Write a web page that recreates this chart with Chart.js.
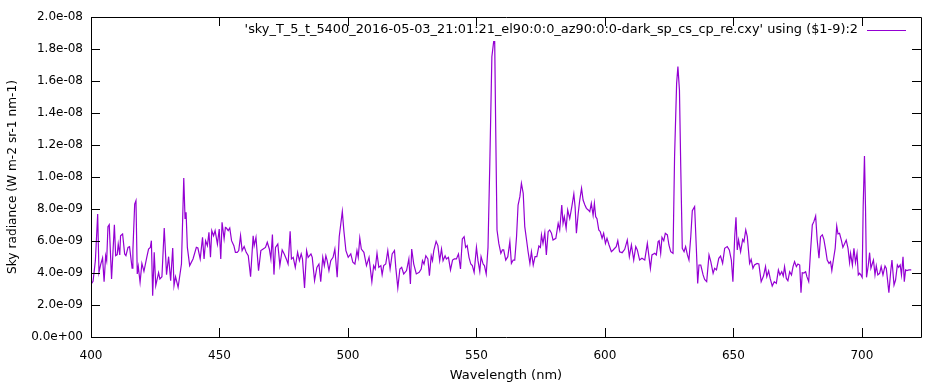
<!DOCTYPE html>
<html>
<head>
<meta charset="utf-8">
<script src="https://cdn.jsdelivr.net/npm/chart.js@4.4.0/dist/chart.umd.min.js"></script>
<style>
  html, body { margin: 0; padding: 0; background: #fff; }
</style>
</head>
<body>
<canvas id="skyChart" width="945" height="384"></canvas>
<script>
// wavelength in nm
const wavelength = [
  400.1, 400.8, 401.7, 402.6, 403.1, 403.8, 404.5, 405.1, 405.7, 406.1, 406.6, 407.1, 408.0, 409.1, 409.6, 410.2,
  410.6, 411.2, 411.5, 412.3, 413.1, 413.6, 414.4, 415.0, 416.0, 416.3, 417.0, 417.5, 418.0, 418.4, 419.1, 419.8,
  420.6, 421.7, 422.4, 423.1, 423.5, 424.0, 424.6, 425.2, 426.3, 426.8, 427.6, 428.5, 429.4, 430.2, 431.0, 431.8,
  432.3, 432.9, 433.9, 435.2, 436.1, 436.6, 437.0, 437.5, 438.4, 439.7, 441.0, 441.6, 442.5, 443.4, 444.0, 444.6,
  445.3, 445.9, 446.5, 447.0, 447.7, 448.3, 449.2, 449.9, 450.5, 451.0, 451.8, 452.3, 452.7, 453.4, 454.0, 454.7,
  455.6, 456.2, 456.9, 457.5, 458.2, 458.8, 459.6, 460.4, 461.2, 462.1, 463.1, 463.5, 464.2, 465.2, 466.1, 467.0,
  467.9, 468.6, 469.4, 470.0, 470.6, 471.2, 471.8, 472.7, 473.5, 474.4, 475.2, 476.0, 476.7, 477.5, 478.0, 478.7,
  479.5, 480.4, 481.1, 481.8, 482.3, 483.1, 483.9, 484.5, 485.6, 486.1, 487.0, 487.9, 488.7, 489.4, 490.2, 490.8,
  491.4, 491.9, 492.6, 493.3, 494.2, 494.9, 495.8, 496.6, 497.8, 498.4, 499.2, 500.1, 501.1, 501.9, 502.7, 503.5,
  504.0, 504.6, 505.2, 506.2, 507.2, 508.2, 509.3, 510.0, 510.6, 511.3, 512.0, 512.8, 513.3, 513.9, 514.7, 515.5,
  516.4, 517.2, 518.1, 518.6, 519.4, 520.2, 520.9, 521.7, 522.8, 523.7, 524.3, 524.8, 525.6, 526.6, 527.7, 528.5,
  529.0, 529.6, 530.3, 531.1, 531.7, 532.4, 532.9, 533.4, 534.3, 535.0, 535.7, 536.4, 537.0, 537.8, 538.3, 539.1,
  539.9, 540.7, 541.4, 542.2, 543.0, 543.8, 544.5, 545.2, 545.8, 546.4, 547.1, 547.8, 548.4, 549.1, 550.0, 550.6,
  551.3, 551.8, 552.6, 553.1, 553.8, 554.5, 555.2, 556.0, 556.7, 557.1, 557.5, 558.0, 558.7, 559.5, 560.1, 560.6,
  561.4, 562.2, 563.0, 563.6, 564.3, 564.9, 565.6, 566.2, 566.9, 567.5, 568.2, 568.8, 569.5, 570.1, 570.8, 571.4,
  572.1, 572.8, 573.5, 574.3, 574.9, 575.3, 575.9, 576.6, 577.2, 577.9, 578.5, 579.2, 579.8, 580.9, 581.8, 582.4,
  583.2, 583.7, 584.2, 584.9, 585.5, 586.3, 587.1, 587.9, 588.4, 588.9, 589.6, 590.2, 590.9, 591.5, 592.2, 592.8,
  593.5, 594.1, 594.7, 595.4, 595.9, 596.4, 596.9, 597.6, 598.2, 598.9, 599.5, 600.2, 600.8, 601.6, 602.5, 603.2,
  604.4, 605.0, 605.7, 606.7, 607.7, 608.7, 609.5, 610.3, 611.2, 612.0, 612.6, 613.5, 614.4, 615.5, 616.5, 617.7,
  618.3, 619.4, 620.0, 620.7, 621.1, 621.7, 622.2, 622.9, 623.5, 624.3, 624.9, 625.6, 626.5, 627.1, 627.9, 628.4,
  629.0, 629.5, 630.1, 630.8, 631.4, 632.1, 632.7, 633.4, 634.0, 634.9, 635.6, 636.1, 636.6, 637.3, 638.2, 638.8,
  639.6, 640.5, 641.2, 642.1, 642.7, 643.4, 644.3, 645.0, 645.8, 646.6, 647.6, 648.4, 649.2, 649.8, 650.5, 651.0,
  651.5, 652.0, 652.8, 653.6, 654.1, 654.8, 655.4, 656.3, 656.9, 657.6, 658.2, 659.2, 659.9, 660.8, 661.7, 662.5,
  663.0, 663.7, 664.3, 665.1, 665.9, 666.7, 667.5, 668.1, 668.8, 669.4, 669.9, 670.6, 671.2, 671.9, 672.6, 673.2,
  673.8, 674.5, 675.1, 675.8, 676.3, 676.8, 677.4, 678.1, 678.6, 679.3, 680.0, 680.7, 681.3, 682.0, 682.6, 683.3,
  683.9, 684.6, 685.2, 685.9, 686.5, 687.2, 687.8, 688.3, 689.0, 689.6, 690.2, 690.7, 691.3, 692.0, 692.6, 693.3,
  693.9, 694.6, 695.2, 695.6, 696.3, 696.9, 697.5, 698.1, 698.6, 699.1, 699.6, 700.1, 700.5, 701.0, 701.4, 701.8,
  702.5, 703.0, 703.5, 704.0, 704.5, 705.1, 705.6, 706.2, 706.9, 707.5, 708.2, 709.0, 709.5, 710.5, 711.2, 711.7,
  712.5, 713.1, 713.8, 714.3, 714.9, 715.4, 716.0, 716.5, 717.0, 717.5, 718.3, 719.2
];

// sky radiance, in units of 1e-9 W m-2 sr-1 nm-1
const radiance = [
  3.31, 3.48, 4.77, 7.69, 4.04, 4.56, 4.94, 3.46, 5.08, 4.77, 6.90, 7.02, 3.63, 7.02, 5.08, 5.15,
  5.81, 5.13, 6.33, 6.44, 5.19, 5.08, 5.60, 5.65, 4.31, 5.40, 8.31, 8.52, 3.94, 4.40, 3.42, 4.60,
  4.10, 4.98, 5.50, 5.60, 6.02, 2.58, 5.29, 3.21, 4.02, 3.63, 3.77, 6.81, 3.90, 5.02, 3.52, 5.56,
  3.21, 3.77, 3.10, 4.56, 9.94, 7.38, 7.79, 5.60, 4.46, 4.88, 5.60, 5.56, 4.88, 6.23, 4.88, 6.02,
  5.71, 6.54, 4.98, 6.65, 6.33, 6.65, 5.81, 6.75, 4.88, 7.17, 6.13, 6.85, 6.81, 6.65, 6.81, 6.02,
  5.71, 5.29, 5.29, 5.40, 6.33, 5.40, 5.65, 5.29, 5.08, 3.77, 6.33, 5.71, 6.23, 4.15, 5.40, 5.50,
  5.60, 5.92, 5.50, 4.88, 6.40, 3.90, 5.60, 5.81, 4.46, 5.44, 5.19, 4.88, 4.56, 6.60, 4.88, 4.98,
  4.35, 5.29, 4.77, 5.19, 4.88, 3.06, 5.40, 4.98, 5.19, 4.98, 3.52, 4.35, 4.56, 3.46, 4.98, 4.46,
  5.08, 4.77, 4.15, 4.77, 4.98, 5.50, 3.73, 6.27, 7.85, 6.65, 5.40, 4.98, 5.19, 4.67, 4.56, 5.40,
  4.98, 6.19, 5.50, 5.29, 4.46, 4.98, 3.46, 4.46, 4.25, 5.23, 4.35, 4.46, 3.90, 4.46, 4.56, 5.40,
  4.25, 5.19, 5.40, 4.35, 3.06, 4.25, 4.35, 3.94, 4.15, 4.88, 3.31, 5.50, 4.56, 3.94, 4.04, 4.25,
  4.77, 4.56, 5.08, 4.88, 3.83, 5.08, 4.77, 5.40, 5.98, 5.71, 4.77, 5.50, 4.77, 5.08, 4.88, 4.98,
  4.19, 4.81, 4.88, 4.88, 5.19, 4.25, 6.13, 6.27, 5.60, 5.71, 4.98, 4.56, 4.46, 4.04, 5.60, 4.77,
  4.10, 5.02, 4.56, 4.46, 3.94, 5.60, 10.85, 17.52, 18.46, 18.46, 12.94, 6.69, 5.85, 5.23, 5.44, 5.44,
  4.81, 5.02, 5.96, 4.60, 4.81, 4.81, 6.27, 8.25, 8.77, 9.60, 8.98, 6.90, 6.06, 5.33, 4.60, 5.33,
  4.50, 5.02, 5.02, 5.69, 5.60, 6.38, 5.85, 6.52, 5.13, 6.58, 6.69, 6.48, 6.06, 6.17, 7.10, 6.69,
  8.25, 7.10, 7.52, 6.79, 7.94, 7.40, 8.13, 8.94, 8.13, 6.48, 7.73, 8.56, 9.29, 8.56, 8.25, 8.04,
  7.94, 7.83, 8.35, 7.60, 8.35, 7.52, 7.40, 6.69, 6.58, 6.17, 6.48, 5.85, 6.17, 5.75, 5.33, 5.44,
  5.65, 6.02, 5.33, 5.27, 5.48, 6.06, 5.02, 5.75, 4.81, 5.65, 5.44, 4.81, 4.92, 4.81, 5.85, 4.29,
  5.13, 5.23, 5.13, 5.96, 6.02, 5.23, 6.23, 6.02, 6.48, 6.38, 5.75, 5.33, 5.23, 11.27, 15.85, 16.90,
  15.44, 10.65, 5.54, 5.33, 5.65, 5.13, 4.81, 6.27, 7.90, 8.15, 5.44, 3.35, 4.50, 4.50, 3.88, 3.60,
  3.46, 5.13, 4.71, 3.98, 4.29, 4.19, 4.92, 5.06, 4.60, 5.54, 5.65, 5.44, 4.81, 3.46, 6.27, 7.48,
  5.44, 6.06, 5.33, 6.10, 5.96, 6.69, 6.27, 4.60, 4.85, 4.29, 4.50, 4.60, 4.56, 3.46, 3.81, 4.40,
  3.77, 4.13, 3.66, 3.19, 3.46, 3.35, 4.19, 3.88, 4.08, 3.81, 4.40, 3.66, 3.52, 4.08, 3.88, 4.40,
  4.71, 4.40, 4.56, 4.50, 2.77, 4.02, 4.00, 4.08, 3.77, 3.46, 5.33, 7.00, 7.21, 7.56, 6.06, 4.92,
  6.27, 6.38, 6.10, 5.44, 4.81, 4.60, 4.71, 4.15, 4.92, 5.54, 6.94, 6.44, 6.48, 6.06, 5.60, 5.85,
  6.06, 5.54, 4.65, 5.23, 4.50, 5.54, 4.65, 5.23, 3.88, 3.98, 3.88, 3.73, 8.15, 11.31, 8.15, 3.73,
  4.50, 5.27, 4.29, 4.56, 4.81, 3.88, 4.44, 3.88, 3.98, 4.40, 3.88, 4.44, 4.29, 2.77, 4.08, 4.81,
  3.25, 3.56, 4.50, 4.35, 4.50, 3.88, 5.02, 3.46, 4.19, 4.15, 4.19, 4.19
];

const seriesLabel = "'sky_T_5_t_5400_2016-05-03_21:01:21_el90:0:0_az90:0:0-dark_sp_cs_cp_re.cxy' using ($1-9):2";
const xTicks = [400, 450, 500, 550, 600, 650, 700];
const yTicks = [0, 2, 4, 6, 8, 10, 12, 14, 16, 18, 20];

const FONT = 'DejaVu Sans';

function expLabel(v) {
  // gnuplot style: 2.0e-09, 0.0e+00
  const s = (v * 1e-9).toExponential(1);
  return s.replace(/e([+-])(\d)$/, 'e$10$2');
}

// gnuplot-like frame with inward ticks and legend on the top right
const gnuplotFrame = {
  id: 'gnuplotFrame',
  afterDraw(chart) {
    const ctx = chart.ctx;
    const a = chart.chartArea;
    const xs = chart.scales.x, ys = chart.scales.y;
    const tl = 9;
    ctx.save();
    ctx.strokeStyle = '#000';
    ctx.lineWidth = 1;
    ctx.beginPath();
    ctx.rect(Math.round(a.left) + 0.5, Math.round(a.top) + 0.5,
             Math.round(a.right - a.left), Math.round(a.bottom - a.top));
    xTicks.forEach(v => {
      const px = Math.round(xs.getPixelForValue(v)) + 0.5;
      ctx.moveTo(px, a.bottom); ctx.lineTo(px, a.bottom - tl);
      ctx.moveTo(px, a.top); ctx.lineTo(px, a.top + tl);
    });
    yTicks.forEach(v => {
      const py = Math.round(ys.getPixelForValue(v)) + 0.5;
      ctx.moveTo(a.left, py); ctx.lineTo(a.left + tl, py);
      ctx.moveTo(a.right, py); ctx.lineTo(a.right - tl, py);
    });
    ctx.stroke();

    // legend
    const ds = chart.data.datasets[0];
    const ly = a.top + 13;
    ctx.font = '12.9px "' + FONT + '"';
    ctx.fillStyle = '#000';
    ctx.textAlign = 'right';
    ctx.textBaseline = 'middle';
    ctx.fillText(ds.label, a.right - 63, ly);
    ctx.strokeStyle = ds.borderColor;
    ctx.lineWidth = 1.2;
    ctx.beginPath();
    ctx.moveTo(a.right - 54, ly + 0.5);
    ctx.lineTo(a.right - 15, ly + 0.5);
    ctx.stroke();
    ctx.restore();
  }
};

const ctx = document.getElementById('skyChart').getContext('2d');
const chart = new Chart(ctx, {
  type: 'line',
  data: {
    datasets: [{
      label: seriesLabel,
      data: wavelength.map((w, i) => ({ x: w, y: radiance[i] })),
      borderColor: '#9400d3',
      borderWidth: 1.2,
      pointRadius: 0,
      tension: 0,
      fill: false
    }]
  },
  options: {
    responsive: false,
    animation: false,
    devicePixelRatio: 1,
    layout: { padding: { top: 17, right: 24, left: 0, bottom: 0 } },
    plugins: {
      legend: { display: false },
      tooltip: { enabled: false }
    },
    scales: {
      x: {
        type: 'linear',
        min: 400,
        max: 723,
        afterBuildTicks: s => { s.ticks = xTicks.map(v => ({ value: v })); },
        afterFit: s => { s.height = 47; },
        grid: { display: false, drawTicks: false },
        border: { display: false },
        ticks: {
          color: '#000',
          font: { family: FONT, size: 12 },
          padding: 12,
          maxRotation: 0,
          autoSkip: false,
          callback: v => String(v)
        },
        title: {
          display: true,
          text: 'Wavelength (nm)',
          color: '#000',
          font: { family: FONT, size: 13 },
          padding: { top: 0, bottom: 1 }
        }
      },
      y: {
        type: 'linear',
        min: 0,
        max: 20,
        afterBuildTicks: s => { s.ticks = yTicks.map(v => ({ value: v })); },
        afterFit: s => { s.width = 91; },
        grid: { display: false, drawTicks: false },
        border: { display: false },
        ticks: {
          color: '#000',
          font: { family: FONT, size: 12 },
          padding: 8,
          autoSkip: false,
          callback: v => expLabel(v)
        },
        title: {
          display: true,
          text: 'Sky radiance (W m-2 sr-1 nm-1)',
          color: '#000',
          font: { family: FONT, size: 12.2 },
          padding: { top: 6, bottom: 0 }
        }
      }
    }
  },
  plugins: [gnuplotFrame]
});
</script>
</body>
</html>
